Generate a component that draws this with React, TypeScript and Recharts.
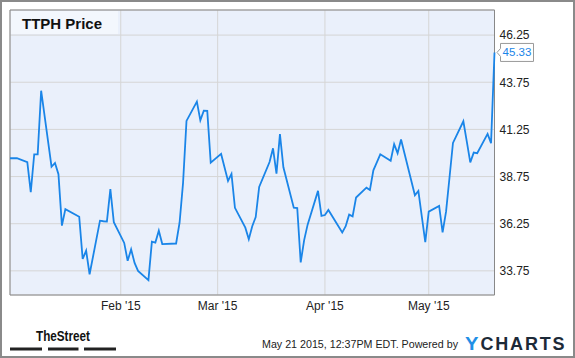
import React from "react";
import {
  LineChart,
  Line,
  XAxis,
  YAxis,
  CartesianGrid,
  ReferenceArea,
  ReferenceDot,
} from "recharts";

const dates = [
  "2014-12-31", "2015-01-02", "2015-01-05", "2015-01-06", "2015-01-07", "2015-01-08", "2015-01-09",
  "2015-01-12", "2015-01-13", "2015-01-14", "2015-01-15", "2015-01-16",
  "2015-01-20", "2015-01-21", "2015-01-22", "2015-01-23",
  "2015-01-26", "2015-01-27", "2015-01-28", "2015-01-29", "2015-01-30",
  "2015-02-02", "2015-02-03", "2015-02-04", "2015-02-05", "2015-02-06",
  "2015-02-09", "2015-02-10", "2015-02-11", "2015-02-12", "2015-02-13",
  "2015-02-17", "2015-02-18", "2015-02-19", "2015-02-20",
  "2015-02-23", "2015-02-24", "2015-02-25", "2015-02-26", "2015-02-27",
  "2015-03-02", "2015-03-03", "2015-03-04", "2015-03-05", "2015-03-06",
  "2015-03-09", "2015-03-10", "2015-03-11", "2015-03-12", "2015-03-13",
  "2015-03-16", "2015-03-17", "2015-03-18", "2015-03-19", "2015-03-20",
  "2015-03-23", "2015-03-24", "2015-03-25", "2015-03-26", "2015-03-27",
  "2015-03-30", "2015-03-31", "2015-04-01", "2015-04-02",
  "2015-04-06", "2015-04-07", "2015-04-08", "2015-04-09", "2015-04-10",
  "2015-04-13", "2015-04-14", "2015-04-15", "2015-04-16", "2015-04-17",
  "2015-04-20", "2015-04-21", "2015-04-22", "2015-04-23", "2015-04-24",
  "2015-04-27", "2015-04-28", "2015-04-29", "2015-04-30", "2015-05-01",
  "2015-05-04", "2015-05-05", "2015-05-06", "2015-05-07", "2015-05-08",
  "2015-05-11", "2015-05-12", "2015-05-13", "2015-05-14", "2015-05-15",
  "2015-05-18", "2015-05-19", "2015-05-20",
];

const prices = [
  39.72, 39.72, 39.51, 37.92, 39.93, 39.93, 43.3,
  39.27, 39.47, 38.87, 36.15, 37.02,
  36.62, 34.38, 34.82, 33.57,
  36.41, 36.38, 36.36, 38.08, 36.33,
  35.23, 34.28, 34.89, 34.17, 33.75,
  33.26, 35.3, 35.25, 35.88, 35.17,
  35.2, 36.3, 38.4, 41.7,
  42.72, 41.73, 42.24, 42.23, 39.49,
  39.95, 39.23, 38.52, 38.89, 37.09,
  36.04, 35.43, 36.12, 36.6, 38.2,
  39.52, 40.25, 38.9, 41.0, 39.24,
  37.1, 37.08, 34.2, 35.38, 36.2,
  37.99, 36.66, 36.71, 36.98,
  35.78, 36.12, 36.73, 36.64, 37.64,
  38.16, 38.04, 39.08, 39.5, 39.93,
  39.59, 40.47, 39.99, 40.71, 39.97,
  37.76, 37.99, 36.62, 35.27, 36.89,
  37.19, 35.79, 36.89, 38.7, 40.53,
  41.68, 40.6, 39.5, 40.02, 39.99,
  41.01, 40.52, 45.33,
];

const tickDates = ["2015-02-01", "2015-03-01", "2015-04-01", "2015-05-01"];
const tickLabels = ["Feb '15", "Mar '15", "Apr '15", "May '15"];
const priceTicks = [33.75, 36.25, 38.75, 41.25, 43.75, 46.25];
const priceDomain = [32.47, 47.58];
const title = "TTPH Price";
const footerText = "May 21 2015, 12:37PM EDT.  Powered by";

const DAY = 86400000;
const t0 = Date.parse(dates[0]);
const dayOf = (s: string) => Math.round((Date.parse(s) - t0) / DAY);
const data = dates.map((s, i) => ({ d: dayOf(s), price: prices[i] }));
const xTicks = tickDates.map(dayOf);
const xMax = data[data.length - 1].d;
const lastPrice = prices[prices.length - 1];

const FONT = "'Liberation Sans', Arial, Helvetica, sans-serif";
const BLUE = "#1a85e8";

const LastLabel = (props: any) => {
  const { cx, cy } = props;
  if (cx == null || cy == null) return null;
  const tip = cx + 2.5;
  const l = cx + 6;
  const r = cx + 39;
  const t = cy - 9;
  const b = cy + 9;
  const d = `M${tip},${cy} L${l},${cy - 4} L${l},${t} L${r},${t} L${r},${b} L${l},${b} L${l},${cy + 4} Z`;
  return (
    <g>
      <path d={d} fill="#ffffff" stroke="#9a9a9a" strokeWidth={1} />
      <text
        x={(l + r) / 2}
        y={cy + 4}
        textAnchor="middle"
        fontSize={11.5}
        fontFamily={FONT}
        fill={BLUE}
      >
        {lastPrice.toFixed(2)}
      </text>
    </g>
  );
};

export default function App() {
  return (
    <div
      style={{
        position: "absolute",
        left: 0,
        top: 0,
        width: 575,
        height: 358,
        background: "#ffffff",
        fontFamily: FONT,
      }}
    >
      <LineChart
        width={575}
        height={358}
        data={data}
        margin={{ top: 10, right: 0, left: 10, bottom: 33 }}
      >
        <CartesianGrid
          stroke="#d5d5d5"
          strokeWidth={1}
          fill="#eaf0fb"
          vertical={true}
          horizontal={true}
        />
        <XAxis
          dataKey="d"
          type="number"
          domain={[0, xMax]}
          ticks={xTicks}
          tickFormatter={(v: number) => tickLabels[xTicks.indexOf(v)] ?? ""}
          axisLine={false}
          tickLine={false}
          tickSize={0}
          tickMargin={6}
          height={30}
          tick={{ fontSize: 12, fill: "#222222", fontFamily: FONT }}
          interval={0}
        />
        <YAxis
          orientation="right"
          type="number"
          domain={priceDomain}
          ticks={priceTicks}
          allowDataOverflow={true}
          tickFormatter={(v: number) => v.toFixed(2)}
          axisLine={false}
          tickLine={false}
          tickSize={0}
          tickMargin={5}
          width={80.5}
          tick={{ fontSize: 12, fill: "#222222", fontFamily: FONT }}
          interval={0}
        />
        <ReferenceArea
          x1={0}
          x2={xMax}
          y1={priceDomain[0]}
          y2={priceDomain[1]}
          fill="none"
          fillOpacity={0}
          stroke="#888888"
          strokeWidth={1}
          ifOverflow="visible"
        />
        <Line
          type="linear"
          dataKey="price"
          stroke={BLUE}
          strokeWidth={1.8}
          dot={false}
          activeDot={false}
          isAnimationActive={false}
        />
        <ReferenceDot
          x={xMax}
          y={lastPrice}
          r={0}
          ifOverflow="visible"
          shape={LastLabel}
        />
      </LineChart>
      <div
        style={{
          position: "absolute",
          left: 11,
          top: 11,
          width: 107,
          height: 23,
          background: "#f3f7fd",
        }}
      />
      <svg
        width={575}
        height={358}
        style={{ position: "absolute", left: 0, top: 0, pointerEvents: "none" }}
      >
        <text x={22} y={28.5} fontSize={15} fontWeight="bold" fontFamily={FONT} fill="#111111">
          {title}
        </text>
        <text
          x={36}
          y={341}
          fontSize={15}
          fontWeight="bold"
          fontFamily="'Liberation Sans Narrow', 'Liberation Sans', Arial, sans-serif"
          fill="#111111"
          textLength={54}
          lengthAdjust="spacingAndGlyphs"
        >
          TheStreet
        </text>
        <rect x={10} y={347.5} width={32} height={3} fill="#222222" />
        <rect x={48} y={347.5} width={30.5} height={3} fill="#222222" />
        <rect x={84} y={347.5} width={32} height={3} fill="#222222" />
        <text
          x={262}
          y={348}
          fontSize={11}
          fontFamily={FONT}
          fill="#222222"
          textLength={196}
          lengthAdjust="spacingAndGlyphs"
        >
          {footerText}
        </text>
        <text
          x={465}
          y={350}
          fontSize={18}
          fontWeight="bold"
          fontFamily={FONT}
          fill="#1f8fe6"
          textLength={13.5}
          lengthAdjust="spacingAndGlyphs"
        >
          Y
        </text>
        <text
          x={480.5}
          y={350}
          fontSize={18}
          fontWeight="bold"
          fontFamily={FONT}
          fill="#1c2a38"
          textLength={84}
          lengthAdjust="spacing"
        >
          CHARTS
        </text>
        <rect
          x={1}
          y={1}
          width={573}
          height={356}
          fill="none"
          stroke="#8a8a8a"
          strokeWidth={2}
        />
      </svg>
    </div>
  );
}
